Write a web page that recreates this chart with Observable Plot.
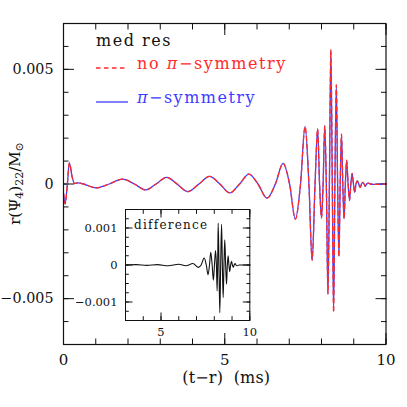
<!DOCTYPE html>
<html><head><meta charset="utf-8">
<script src="https://cdn.jsdelivr.net/npm/d3@7"></script>
<script src="https://cdn.jsdelivr.net/npm/@observablehq/plot@0.6"></script>
<style>
body{margin:0;background:#fff;}
#wrap{position:relative;width:407px;height:407px;overflow:hidden;}
#inset{position:absolute;left:70px;top:204px;}
svg{overflow:visible;}
</style></head><body><div id="wrap"><div id="main"></div><div id="inset"></div></div>
<script>
// ---- data ----
const times = [0, 0.05, 0.12, 0.18, 0.27, 0.34, 0.46, 0.62, 1.02, 1.42, 1.83, 2.2, 2.55, 2.87, 3.2, 3.52, 3.86, 4.2, 4.53, 4.85, 5.16, 5.46, 5.75, 6.03, 6.31, 6.57, 6.81, 7.01, 7.19, 7.35, 7.49, 7.61, 7.71, 7.80, 7.88, 7.94, 8.0, 8.05, 8.10, 8.15, 8.20, 8.245, 8.29, 8.335, 8.375, 8.415, 8.46, 8.50, 8.54, 8.58, 8.62, 8.66, 8.70, 8.74, 8.78, 8.825, 8.87, 8.91, 8.95, 8.99, 9.03, 9.07, 9.11, 9.155, 9.2, 9.24, 9.28, 9.32, 9.36, 9.40, 9.45, 9.52, 9.62, 10];
const noPiSymmetry = [-0.0004, -0.00087, 0, 0.00092, 0.0003, 0.00002, 0.00005, 0, -0.00017, 0, 0.00021, 0, -0.00026, 0, 0.00029, 0, -0.00033, 0, 0.00033, 0, -0.00039, 0, 0.00043, 0, -0.00062, 0, 0.0009, 0, -0.00153, 0, 0.0025, 0, -0.00332, 0, 0.0024, 0, -0.00148, 0, 0.00253, 0, -0.00478, 0, 0.00585, 0, -0.0056, 0, 0.00433, 0, -0.00318, 0, 0.00217, 0, -0.00152, 0, 0.00104, 0, -0.00072, 0, 0.00046, 0, -0.00036, 0, 0.00014, 0, -0.00015, 0, 0.00007, 0, -0.0001, 0, 0.00004, 0, -0.00002, 0];
const piSymmetry = [-0.0004, -0.00087, 0, 0.00092, 0.0003, 0.00002, 0.00005, 0, -0.00017, 0, 0.00021, 0, -0.00026, 0, 0.00029, 0, -0.00033, 0, 0.00033, 0, -0.00039, 0, 0.00043, 0, -0.00062, 0, 0.0009, 0, -0.00153, 0, 0.00251, 0, -0.00333, 0, 0.00241, 0, -0.00149, 0, 0.00255, 0, -0.00482, 0, 0.0058, 0, -0.00555, 0, 0.0043, 0, -0.00316, 0, 0.00216, 0, -0.00151, 0, 0.00103, 0, -0.00071, 0, 0.00046, 0, -0.00036, 0, 0.00014, 0, -0.00015, 0, 0.00007, 0, -0.0001, 0, 0.00004, 0, -0.00002, 0];

const diffTimes = [3, 3.6, 4.2, 4.8, 5.4, 6.0, 6.4, 6.8, 7.09, 7.26, 7.43, 7.55, 7.65, 7.73, 7.80, 7.88, 7.95, 8.01, 8.07, 8.12, 8.16, 8.19, 8.22, 8.265, 8.31, 8.36, 8.41, 8.455, 8.50, 8.545, 8.59, 8.64, 8.69, 8.735, 8.78, 8.825, 8.87, 8.92, 8.97, 9.02, 9.07, 9.12, 9.17, 9.22, 9.28, 9.4, 10];
const diffValues = [0, 0.00001, -0.00001, 0.00001, -0.00002, 0.00002, -0.00002, 0.00004, -0.000065, 0, 0.00019, 0, -0.00026, 0, 0.00034, 0, -0.00041, 0, 0.00039, 0, -0.0007, 0, 0.00113, 0, -0.00129, 0, 0.0011, 0, -0.00088, 0, 0.00068, 0, -0.00052, 0, 0.00025, 0, -0.00018, 0, 0.0001, 0, -0.00006, 0, 0.00004, 0, -0.00002, 0, 0];

const xMajorTicks = [0, 5, 10];
const xMinorTicks = [0, 1, 2, 3, 4, 5, 6, 7, 8, 9, 10];
const yMajorTicks = [-0.005, 0, 0.005];
const yMinorTicks = [-0.006, -0.005, -0.004, -0.003, -0.002, -0.001, 0, 0.001, 0.002, 0.003, 0.004, 0.005, 0.006];
const insetXMajorTicks = [5, 10];
const insetXMinorTicks = [3, 4, 5, 6, 7, 8, 9, 10];
const insetYMajorTicks = [-0.001, 0, 0.001];
const insetYMinorTicks = [-0.0015, -0.00125, -0.001, -0.00075, -0.0005, -0.00025, 0, 0.00025, 0.0005, 0.00075, 0.001, 0.00125, 0.0015];

const xLabel = "(t\u2212r)  (ms)";
const legendTitle = "med res";
const seriesNames = ["no \u03c0\u2212symmetry", "\u03c0\u2212symmetry"];
const seriesColors = ["#ff2a2a", "#3d3dff"];
const insetTitle = "difference";

// ---- derived tables ----
const rows = times.map((t, i) => ({t, red: noPiSymmetry[i], blue: piSymmetry[i]}));
const diffRows = diffTimes.map((t, i) => ({t, v: diffValues[i]}));

const FONT = "'DejaVu Serif', serif";
const INK = "#111";

function fmt(d) {
  if (d === 0) return "0";
  if (Number.isInteger(d)) return String(d);
  return d3.format(".3f")(d);
}

// widen a text to the width it has in the reference (the reference font is wide)
function fitWidth(sel, target) {
  const node = sel.node();
  const len = node.getComputedTextLength();
  const n = [...node.textContent].length;
  if (n > 1 && len > 0 && target > len) sel.style("letter-spacing", ((target - len) / n).toFixed(2) + "px");
}

function frameTicks(xs, ys, size, w) {
  const o = {fill: "none", label: null, stroke: INK, strokeWidth: w};
  return [
    Plot.axisX(xs, {...o, anchor: "bottom", tickSize: size, dy: -size}),
    Plot.axisX(xs, {...o, anchor: "top", tickSize: size, dy: size}),
    Plot.axisY(ys, {...o, anchor: "left", tickSize: size, dx: size}),
    Plot.axisY(ys, {...o, anchor: "right", tickSize: size, dx: -size})
  ];
}

const M = {top: 23, right: 21.5, bottom: 63, left: 63};
const main = Plot.plot({
  width: 407, height: 407,
  marginTop: M.top, marginRight: M.right, marginBottom: M.bottom, marginLeft: M.left,
  style: {fontFamily: FONT, background: "white", color: INK},
  x: {domain: [0, 10]},
  y: {domain: [-0.007, 0.007]},
  marks: [
    ...frameTicks(xMinorTicks, yMinorTicks, 5.5, 1),
    ...frameTicks(xMajorTicks, yMajorTicks, 11, 1),
    Plot.axisX(xMajorTicks, {anchor: "bottom", tickSize: 0, tickPadding: 10, fontSize: 15, tickFormat: fmt, label: null, fill: INK}),
    Plot.axisY(yMajorTicks, {anchor: "left", tickSize: 0, tickPadding: 10, fontSize: 14.3, tickFormat: fmt, label: null, fill: INK}),
    Plot.line(rows, {x: "t", y: "blue", stroke: seriesColors[1], strokeWidth: 1.3, curve: "monotone-x"}),
    Plot.line(rows, {x: "t", y: "red", stroke: seriesColors[0], strokeWidth: 1.3, strokeDasharray: "4.5,3.5", curve: "monotone-x"}),
    Plot.frame({stroke: INK, strokeWidth: 1.2})
  ]
});
document.getElementById("main").appendChild(main);

const svg = d3.select(main);
const sx = main.scale("x"), sy = main.scale("y");
// x label
const xl = svg.append("text")
  .attr("x", (sx.apply(0) + sx.apply(10)) / 2 + 2).attr("y", 383)
  .attr("text-anchor", "middle").attr("font-family", FONT).attr("font-size", 16)
  .attr("fill", INK).style("white-space", "pre")
  .text(xLabel);
fitWidth(xl, 88);
// y label with subscripts
const yl = svg.append("text")
  .attr("transform", `translate(19.5,${(sy.apply(-0.007) + sy.apply(0.007)) / 2}) rotate(-90)`)
  .attr("text-anchor", "middle").attr("font-family", FONT).attr("font-size", 15)
  .attr("fill", INK);
yl.append("tspan").text("r(\u03a8");
yl.append("tspan").attr("font-size", 11).attr("dy", 3).text("4");
yl.append("tspan").attr("dy", -3).text(")");
yl.append("tspan").attr("font-size", 11).attr("dy", 3).text("22");
yl.append("tspan").attr("dy", -3).text("/M");
yl.append("tspan").attr("font-size", 11).attr("dy", 3).text("\u2299");
fitWidth(yl, 81);

// legend
const lg = svg.append("g").attr("font-family", FONT).attr("font-size", 16).attr("text-anchor", "start");
const lt = lg.append("text").attr("x", 96).attr("y", 46).attr("fill", INK).text(legendTitle);
fitWidth(lt, 76);
const legendY = [68, 102];
const legendWidths = [150, 119];
seriesNames.forEach((name, i) => {
  lg.append("line").attr("x1", 96).attr("x2", 128).attr("y1", legendY[i]).attr("y2", legendY[i])
    .attr("stroke", seriesColors[i]).attr("stroke-width", 1.3)
    .attr("stroke-dasharray", i === 0 ? "4.5,3.5" : null);
  const t = lg.append("text").attr("x", 137).attr("y", legendY[i] + 1).attr("fill", seriesColors[i]);
  const parts = name.split("\u03c0");
  t.append("tspan").text(parts[0]);
  t.append("tspan").attr("font-style", "italic").text("\u03c0");
  t.append("tspan").text(parts[1]);
  fitWidth(t, legendWidths[i]);
});

// ---- inset ----
const IM = {top: 5, right: 10.7, bottom: 25, left: 55};
const inset = Plot.plot({
  width: 190, height: 141,
  marginTop: IM.top, marginRight: IM.right, marginBottom: IM.bottom, marginLeft: IM.left,
  style: {fontFamily: FONT, background: "transparent", color: INK, overflow: "visible"},
  x: {domain: [3, 10]},
  y: {domain: [-0.0015, 0.0015]},
  marks: [
    ...frameTicks(insetXMinorTicks, insetYMinorTicks, 3.8, 1),
    ...frameTicks(insetXMajorTicks, insetYMajorTicks, 7.5, 1),
    Plot.axisX(insetXMajorTicks, {anchor: "bottom", tickSize: 0, tickPadding: 7.5, fontSize: 11.5, tickFormat: fmt, label: null, fill: INK}),
    Plot.axisY(insetYMajorTicks, {anchor: "left", tickSize: 0, tickPadding: 8, fontSize: 11.5, tickFormat: fmt, label: null, fill: INK}),
    Plot.line(diffRows, {x: "t", y: "v", stroke: INK, strokeWidth: 1.1, curve: "monotone-x"}),
    Plot.frame({stroke: INK, strokeWidth: 1})
  ]
});
document.getElementById("inset").appendChild(inset);
const dt = d3.select(inset).append("text")
  .attr("x", IM.left + 9).attr("y", IM.top + 20).attr("text-anchor", "start")
  .attr("font-family", FONT).attr("font-size", 12).attr("fill", INK).text(insetTitle);
fitWidth(dt, 74);
</script></body></html>
